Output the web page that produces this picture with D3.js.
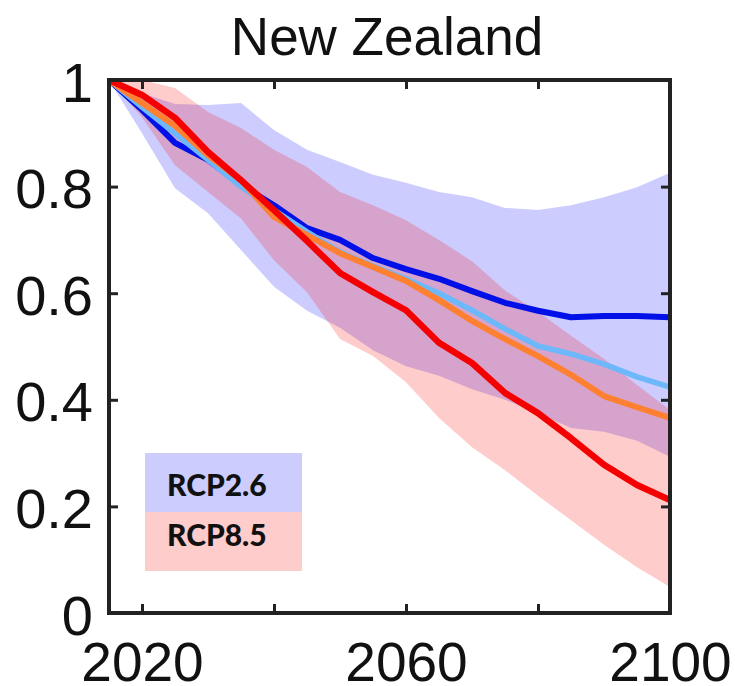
<!DOCTYPE html>
<html><head><meta charset="utf-8">
<script src="https://cdn.jsdelivr.net/npm/d3@7"></script>
<style>body{margin:0;background:#fff}svg{display:block}</style>
</head><body>
<svg id="chart" width="735" height="686"></svg>
<script>
const years      = [2015,2020,2025,2030,2035,2040,2045,2050,2055,2060,2065,2070,2075,2080,2085,2090,2095,2100];
const rcp26Upper = [1.00,0.975,0.955,0.953,0.957,0.906,0.869,0.846,0.822,0.807,0.790,0.780,0.760,0.756,0.765,0.780,0.799,0.826];
const rcp26Lower = [1.00,0.900,0.797,0.750,0.681,0.612,0.567,0.535,0.493,0.463,0.445,0.420,0.400,0.375,0.347,0.340,0.323,0.293];
const rcp85Upper = [1.00,1.000,0.985,0.940,0.910,0.869,0.837,0.790,0.765,0.737,0.700,0.660,0.605,0.565,0.520,0.477,0.428,0.381];
const rcp85Lower = [1.00,0.930,0.840,0.790,0.740,0.662,0.602,0.514,0.482,0.433,0.366,0.311,0.268,0.220,0.174,0.128,0.086,0.049];
const darkBlue   = [1.00,0.944,0.882,0.850,0.803,0.765,0.722,0.700,0.666,0.645,0.627,0.604,0.582,0.567,0.555,0.557,0.557,0.555];
const lightBlue  = [1.00,0.949,0.900,0.850,0.800,0.756,0.715,0.677,0.651,0.627,0.600,0.568,0.533,0.501,0.486,0.467,0.443,0.424];
const orange     = [1.00,0.957,0.914,0.859,0.812,0.743,0.709,0.675,0.649,0.623,0.587,0.548,0.514,0.482,0.447,0.407,0.386,0.366];
const red        = [1.00,0.972,0.929,0.865,0.812,0.756,0.698,0.638,0.602,0.568,0.507,0.469,0.413,0.375,0.328,0.278,0.240,0.212];
const xTicks = [2020,2040,2060,2080,2100];
const xLabels = [2020,2060,2100];
const yTicks = [0,0.2,0.4,0.6,0.8,1];
const legendItems = ["RCP2.6","RCP8.5"];
const title = "New Zealand";

const svg = d3.select("#chart");
const L=109, R=670, T=80, B=613;
const x = d3.scaleLinear().domain([2015,2100]).range([L,R]);
const y = d3.scaleLinear().domain([0,1]).range([B,T]);

svg.append("defs").append("clipPath").attr("id","clip")
  .append("rect").attr("x",L).attr("y",T).attr("width",R-L).attr("height",B-T);
const plot = svg.append("g").attr("clip-path","url(#clip)");

const area = (lo,hi)=>d3.area().x((d,i)=>x(years[i])).y0((d,i)=>y(lo[i])).y1((d,i)=>y(hi[i]))(years);
plot.append("path").attr("d",area(rcp26Lower,rcp26Upper)).attr("fill","rgb(0,0,255)").attr("fill-opacity",0.2);
plot.append("path").attr("d",area(rcp85Lower,rcp85Upper)).attr("fill","rgb(255,0,0)").attr("fill-opacity",0.2);

const line = d3.line().x((d,i)=>x(years[i])).y(d=>y(d));
[[darkBlue,"#0010e6",6],[lightBlue,"#6cb8fa",5.5],[orange,"#ff8030",6],[red,"#f50000",6.5]].forEach(([s,c,w])=>{
  plot.append("path").attr("d",line(s)).attr("fill","none").attr("stroke",c)
    .attr("stroke-width",w).attr("stroke-linejoin","round").attr("stroke-linecap","round");
});

// legend
const lg = svg.append("g");
const legColors = ["#ccccff","#ffcccc"];
legendItems.forEach((t,i)=>{
  lg.append("rect").attr("x",145).attr("y",453+i*59).attr("width",157).attr("height",59).attr("fill",legColors[i]);
  lg.append("text").attr("x",167).attr("y",496+i*50).text(t)
    .attr("font-family","Lato, 'Open Sans', sans-serif").attr("font-weight",900).attr("font-size",30).attr("fill","#111");
});

// axes
const font = "'Liberation Sans', Arial, sans-serif";
const styleAxis = g => { g.select(".domain").remove(); g.selectAll("line").attr("stroke","#222").attr("stroke-width",3); };
svg.append("g").attr("transform",`translate(0,${B})`)
  .call(d3.axisBottom(x).tickValues(xTicks).tickSize(-9).tickFormat(d=>xLabels.includes(d)?d3.format("d")(d):""))
  .call(styleAxis)
  .call(g=>g.selectAll("text").attr("y",68).attr("dy",0).attr("font-size",55).attr("font-family",font).attr("fill","#111"));
svg.append("g").attr("transform",`translate(0,${T})`)
  .call(d3.axisTop(x).tickValues(xTicks).tickSize(-9).tickFormat(""))
  .call(styleAxis);
svg.append("g").attr("transform",`translate(${L},0)`)
  .call(d3.axisLeft(y).tickValues(yTicks).tickSize(-9).tickFormat(d=>d3.format("")(d)))
  .call(styleAxis)
  .call(g=>g.selectAll("text").attr("x",-16).attr("dy",21).attr("font-size",56).attr("font-family",font).attr("fill","#111"));
svg.append("g").attr("transform",`translate(${R},0)`)
  .call(d3.axisRight(y).tickValues(yTicks).tickSize(-9).tickFormat(""))
  .call(styleAxis);
svg.append("rect").attr("x",L).attr("y",T).attr("width",R-L).attr("height",B-T)
  .attr("fill","none").attr("stroke","#222").attr("stroke-width",4);

svg.append("text").attr("x",387).attr("y",55).attr("text-anchor","middle")
  .attr("font-family",font).attr("font-size",53).attr("fill","#111").text(title);
</script>
</body></html>
